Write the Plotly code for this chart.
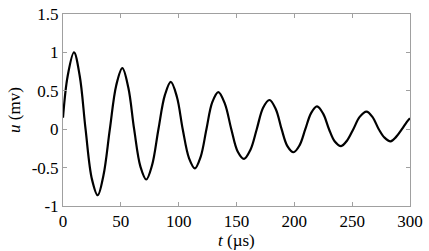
import plotly.graph_objects as go

# time (us) and signal (mV)
t_us = [0, 4, 9.5, 14.5, 19.5, 25, 30, 35, 40.5, 46, 51.3, 56.5, 61.5, 67, 72, 77,
        82.5, 88, 93.2, 98.5, 103.5, 109, 114, 119, 124, 129, 134.3, 140, 145.5,
        151, 156.5, 162, 167.5, 173, 178.5, 184, 189, 194, 199.3, 204.5, 209.5,
        214.5, 219.6, 225, 230, 235, 240.4, 245.5, 251, 256.5, 262.4, 267.5, 273,
        278, 283.2, 288, 293, 297, 300]
u_mv = [0.15, 0.69, 1.0, 0.69, 0.0, -0.65, -0.86, -0.60, 0.0, 0.57, 0.795, 0.54,
        0.0, -0.49, -0.655, -0.47, 0.0, 0.44, 0.617, 0.42, 0.0, -0.38, -0.51,
        -0.36, 0.0, 0.35, 0.484, 0.33, 0.0, -0.29, -0.387, -0.27, 0.0, 0.28, 0.38,
        0.26, 0.0, -0.22, -0.30, -0.21, 0.0, 0.21, 0.297, 0.20, 0.0, -0.16, -0.22,
        -0.15, 0.0, 0.16, 0.228, 0.16, 0.0, -0.11, -0.158, -0.10, 0.0, 0.09, 0.144]

x_ticks = [0, 50, 100, 150, 200, 250, 300]
y_ticks = [-1, -0.5, 0, 0.5, 1, 1.5]
y_labels = ["-1", "-0.5", "0", "0.5", "1", "1.5"]

FONT = "Liberation Serif, DejaVu Serif, serif"
FSIZE = 17
AXIS_GREY = "#a0a0a0"

fig = go.Figure()
fig.add_trace(go.Scatter(x=t_us, y=u_mv, mode="lines",
                         line=dict(color="black", width=2.2, shape="spline", smoothing=1.0)))

axis_style = dict(showline=True, linecolor=AXIS_GREY, linewidth=1, mirror="ticks",
                  ticks="inside", ticklen=4, tickcolor=AXIS_GREY, showgrid=False,
                  zeroline=False, ticklabeloverflow="allow",
                  tickfont=dict(family=FONT, size=FSIZE, color="black"))

fig.update_xaxes(range=[0, 300], tickvals=x_ticks, **axis_style)
fig.update_yaxes(range=[-1, 1.5], tickvals=y_ticks, ticktext=y_labels,
                 title=dict(text="<i>u</i> (mv)", font=dict(family=FONT, size=FSIZE, color="black"),
                            standoff=6),
                 **axis_style)

# x title placed as an annotation so it sits snugly under the tick labels
fig.add_annotation(text="<i>t</i> (µs)", xref="paper", yref="paper", x=0.5, y=-0.18,
                   yanchor="middle", showarrow=False,
                   font=dict(family=FONT, size=FSIZE, color="black"))

fig.update_layout(width=429, height=251, showlegend=False,
                  font=dict(family=FONT, color="black"),
                  margin=dict(l=63, r=19, t=5, b=45),
                  plot_bgcolor="white", paper_bgcolor="white")

# drop the browser's default body margin so the figure sits at the page corner
fig.write_html("out.html", config={"displayModeBar": False},
               post_script="document.body.style.margin='0';")
